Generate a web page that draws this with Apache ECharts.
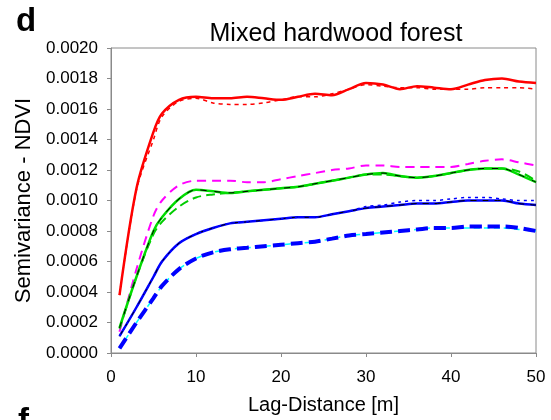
<!DOCTYPE html>
<html><head><meta charset="utf-8">
<script src="https://cdn.jsdelivr.net/npm/echarts@6/dist/echarts.min.js"></script>
<style>html,body{margin:0;padding:0;background:#fff}#c{width:551px;height:420px}</style>
</head><body><div id="c"></div>
<script>
const lags = [1,3,5,6,8,10,12,14,16,18,20,22,24,26,28,30,32,34,36,38,40,42,44,46,48,50];
const redSolid = [0.00038,0.00108,0.00145,0.00157,0.00166,0.00168,0.00167,0.00167,0.00168,0.00167,0.00166,0.00168,0.00170,0.00169,0.00173,0.00177,0.00176,0.00173,0.00175,0.00174,0.00173,0.00176,0.00179,0.00180,0.00178,0.00177];
const redDashed = [0.00038,0.00107,0.00140,0.00155,0.00165,0.00167,0.00164,0.00163,0.00163,0.00164,0.00166,0.00168,0.00168,0.00170,0.00173,0.00176,0.00175,0.00174,0.00174,0.00173,0.00173,0.00173,0.00174,0.00174,0.00174,0.00173];
const magentaDashed = [0.00014,0.00055,0.00090,0.00100,0.00110,0.00113,0.00113,0.00113,0.00112,0.00112,0.00114,0.00116,0.00118,0.00120,0.00121,0.00123,0.00123,0.00122,0.00122,0.00122,0.00122,0.00124,0.00126,0.00127,0.00125,0.00123];
const greenSolid = [0.000165,0.00050,0.00080,0.00089,0.00101,0.00107,0.00106,0.00105,0.00106,0.00107,0.00108,0.00109,0.00111,0.00113,0.00115,0.00117,0.00118,0.00116,0.00115,0.00116,0.00118,0.00120,0.00121,0.00121,0.00117,0.00112];
const greenDashed = [0.00016,0.00050,0.00078,0.00086,0.00096,0.00102,0.00104,0.00105,0.00106,0.00107,0.00108,0.00109,0.00111,0.00113,0.00115,0.00117,0.00117,0.00116,0.00115,0.00116,0.00118,0.00120,0.00121,0.00121,0.00119,0.00113];
const blueSolid = [0.00011,0.00030,0.00050,0.00060,0.00072,0.00078,0.00082,0.00085,0.00086,0.00087,0.00088,0.00089,0.00089,0.00091,0.00093,0.00095,0.00096,0.00097,0.00098,0.00098,0.00099,0.00100,0.00100,0.00100,0.00098,0.00097];
const blueThinDashed = [0.00011,0.00030,0.00050,0.00060,0.00072,0.00078,0.00082,0.00085,0.00086,0.00087,0.00088,0.00089,0.00089,0.00091,0.00093,0.00096,0.00097,0.00099,0.00100,0.00100,0.00101,0.00102,0.00102,0.00101,0.00100,0.00100];
const blueThickDashed = [0.00003,0.00020,0.00036,0.00044,0.00055,0.00062,0.00066,0.00068,0.00069,0.00070,0.00071,0.00072,0.00073,0.00075,0.00077,0.00078,0.00079,0.00080,0.00081,0.00082,0.00082,0.00083,0.00083,0.00083,0.00082,0.00080];
const cyanDashed = [0.00003,0.00020,0.00036,0.00044,0.00055,0.00062,0.00066,0.00068,0.00069,0.00070,0.00071,0.00072,0.00073,0.00075,0.00077,0.00078,0.00079,0.00080,0.00081,0.00082,0.00082,0.00082,0.00082,0.00082,0.00081,0.00080];
const xTicks = [0,10,20,30,40,50];

const pair = arr => lags.map((x,i)=>[x,arr[i]]);
function line(data,color,width,type,z){
  return {type:'line',data:pair(data),symbol:'none',smooth:0.3,z:z,
    lineStyle:{color:color,width:width,type:type}};
}
const F = 'Liberation Sans, Arial, sans-serif';
const chart = echarts.init(document.getElementById('c'));
chart.setOption({
  animation:false,
  textStyle:{fontFamily:F},
  title:[
    {text:'Mixed hardwood forest',left:331,top:17,textAlign:'center',textStyle:{fontSize:25,fontWeight:'normal',color:'#000',fontFamily:F}},
    {text:'d',left:11,top:0,textStyle:{fontSize:33,fontWeight:'bold',color:'#000',fontFamily:F}},
    {text:'f',left:13,top:400,textStyle:{fontSize:33,fontWeight:'bold',color:'#000',fontFamily:F}}
  ],
  grid:{left:111,right:15,top:48,bottom:65,show:true,borderColor:'#8a8a8a',borderWidth:1},
  xAxis:{type:'value',min:0,max:50,interval:10,
    name:'Lag-Distance [m]',nameLocation:'middle',nameGap:42,
    nameTextStyle:{fontSize:20,color:'#000',fontFamily:F},
    axisLine:{lineStyle:{color:'#8a8a8a'}},
    axisTick:{show:true,length:4,lineStyle:{color:'#8a8a8a'}},
    axisLabel:{fontSize:17,color:'#000',margin:16,fontFamily:F,formatter:v=>xTicks.includes(v)?String(v):''},
    splitLine:{show:false}},
  yAxis:{type:'value',min:0,max:0.002,interval:0.0002,
    name:'Semivariance - NDVI',nameLocation:'middle',nameGap:66,
    nameTextStyle:{fontSize:22,color:'#000',fontFamily:F},
    axisLine:{show:true,lineStyle:{color:'#8a8a8a'}},
    axisTick:{show:true,length:4,lineStyle:{color:'#8a8a8a'}},
    axisLabel:{fontSize:17,color:'#000',margin:13,fontFamily:F,formatter:v=>v.toFixed(4)},
    splitLine:{show:false}},
  series:[
    line(magentaDashed,'#ff00ff',2,[9,6],2),
    line(cyanDashed,'#00ffff',1.5,[6,4],2),
    line(blueThickDashed,'#0000ff',4,[12,6],3),
    line(blueSolid,'#0000ff',2.5,'solid',3),
    line(blueSolid,'#000000',1,[6,6],4),
    line(blueThinDashed,'#0000ff',1.5,[3,4],4),
    line(greenDashed,'#00cc00',2,[9,5],3),
    line(greenSolid,'#00dd00',2.5,'solid',3),
    line(greenSolid,'#000000',1,[6,8],4),
    line(redDashed,'#ff0000',1.5,[4,4],3),
    line(redSolid,'#ff0000',2.5,'solid',4)
  ]
});
</script></body></html>
